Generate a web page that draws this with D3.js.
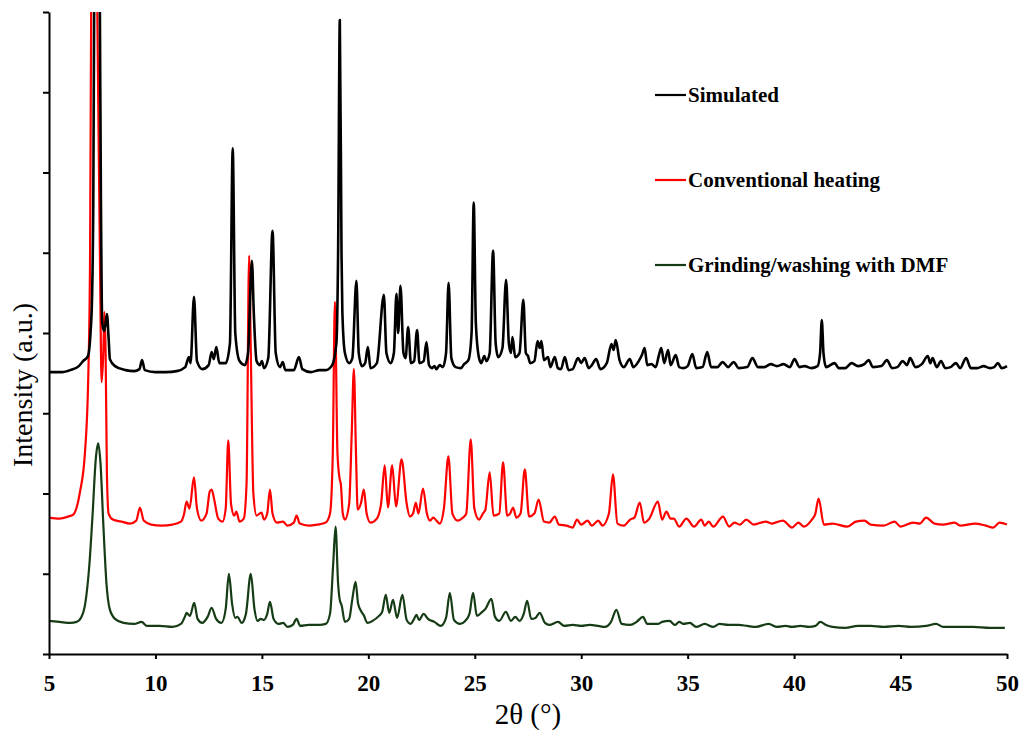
<!DOCTYPE html>
<html>
<head>
<meta charset="utf-8">
<script src="https://cdn.jsdelivr.net/npm/d3@7"></script>
<style>
  body { margin: 0; background: #fff; }
  svg { display: block; }
  text { font-family: "Liberation Serif", "Times New Roman", serif; }
</style>
</head>
<body>
<script>
// 2theta (deg), intensity (a.u., offset traces)
let simulated = [
  [5.0,281],[5.6,281],[6.0,283],[6.4,287],[6.6,292],[6.83,297],[6.95,320],[7.02,354],[7.08,450],[7.12,640],[7.26,1000],[7.39,640],[7.44,450],[7.5,330],[7.6,322],[7.72,339],[7.8,315],[7.86,294],[8.1,287],[8.6,283],[9.0,282],[9.25,284],[9.37,293],[9.5,283],[10.0,281],[10.5,281],[11.0,282],[11.4,286],[11.57,296],[11.65,290],[11.81,356],[11.95,292],[12.2,284],[12.5,288],[12.64,301],[12.74,294],[12.86,306],[13.0,290],[13.3,290],[13.5,310],[13.63,504],[13.75,320],[13.95,292],[14.2,288],[14.35,300],[14.53,392],[14.62,340],[14.75,292],[14.9,288],[15.0,292],[15.1,285],[15.3,295],[15.5,422],[15.65,300],[15.85,286],[15.98,291],[16.1,283],[16.5,283],[16.74,296],[16.9,284],[17.3,281],[17.7,283],[18.0,283],[18.3,288],[18.5,310],[18.58,400],[18.66,632],[18.74,400],[18.78,341],[18.9,300],[19.1,290],[19.25,295],[19.44,372],[19.55,300],[19.7,287],[19.85,290],[19.98,306],[20.1,285],[20.4,290],[20.73,358],[20.85,300],[21.05,290],[21.2,300],[21.32,359],[21.4,320],[21.51,367],[21.65,300],[21.75,295],[21.87,326],[22.0,290],[22.15,292],[22.29,323],[22.4,290],[22.6,292],[22.73,311],[22.85,288],[23.0,285],[23.1,287],[23.2,284],[23.35,288],[23.5,286],[23.65,300],[23.77,370],[23.9,295],[24.1,286],[24.35,285],[24.5,289],[24.7,293],[24.85,320],[24.95,450],[25.05,330],[25.2,295],[25.3,290],[25.45,297],[25.55,292],[25.7,300],[25.86,402],[25.98,310],[26.1,296],[26.3,305],[26.47,373],[26.6,310],[26.7,300],[26.77,316],[26.9,296],[27.1,300],[27.28,353],[27.4,300],[27.5,297],[27.6,290],[27.8,292],[27.95,312],[28.05,305],[28.13,312],[28.25,293],[28.44,296],[28.55,286],[28.76,296],[28.9,285],[29.05,284],[29.23,296],[29.4,283],[29.6,284],[29.85,295],[30.0,290],[30.16,295],[30.35,285],[30.5,288],[30.7,294],[30.9,284],[31.2,290],[31.42,309],[31.52,303],[31.62,313],[31.8,293],[32.0,286],[32.28,294],[32.45,286],[32.7,292],[32.85,298],[32.98,305],[33.1,288],[33.3,289],[33.5,286],[33.65,298],[33.76,305],[33.9,290],[34.08,303],[34.2,288],[34.44,298],[34.6,286],[34.8,285],[35.0,287],[35.22,299],[35.4,285],[35.7,286],[35.92,301],[36.1,286],[36.4,286],[36.64,291],[36.9,286],[37.16,291],[37.4,285],[37.8,286],[38.04,295],[38.3,286],[38.6,286],[38.9,289],[39.2,287],[39.5,289],[39.8,286],[40.02,294],[40.25,286],[40.5,287],[40.8,285],[41.1,287],[41.22,300],[41.3,333],[41.38,300],[41.5,286],[41.9,290],[42.1,285],[42.4,285],[42.7,290],[43.0,287],[43.3,289],[43.5,293],[43.7,286],[44.1,287],[44.36,293],[44.6,285],[44.85,286],[45.1,292],[45.3,288],[45.45,295],[45.7,286],[46.0,289],[46.28,297],[46.4,290],[46.5,295],[46.7,286],[46.9,292],[47.1,285],[47.35,286],[47.6,290],[47.8,285],[48.08,295],[48.3,285],[48.6,285],[48.9,287],[49.2,285],[49.4,286],[49.57,290],[49.75,285],[50.0,287]
]

let conventional = [
  [5.0,136],[5.5,135],[5.9,137],[6.14,139],[6.45,161],[6.69,201],[6.85,281],[6.93,400],[6.98,640],[7.12,900],[7.27,640],[7.4,380],[7.47,271],[7.55,300],[7.6,341],[7.66,300],[7.72,180],[7.8,140],[8.0,134],[8.4,132],[8.8,130],[9.1,133],[9.27,146],[9.45,133],[9.8,129],[10.3,128],[10.8,129],[11.2,132],[11.35,140],[11.46,152],[11.6,145],[11.81,176],[11.95,145],[12.15,133],[12.4,140],[12.55,162],[12.64,164],[12.75,155],[12.95,135],[13.15,132],[13.3,145],[13.42,213],[13.55,150],[13.7,138],[13.8,142],[13.95,132],[14.15,135],[14.28,170],[14.4,397],[14.48,300],[14.6,160],[14.75,138],[14.98,141],[15.1,134],[15.25,140],[15.38,164],[15.5,140],[15.7,131],[15.99,132],[16.2,128],[16.5,131],[16.63,138],[16.78,130],[17.2,128],[17.6,129],[18.0,131],[18.2,140],[18.33,200],[18.43,351],[18.55,200],[18.65,175],[18.71,169],[18.8,140],[18.9,134],[19.1,150],[19.22,220],[19.32,284],[19.42,200],[19.5,144],[19.65,150],[19.79,164],[19.92,140],[20.1,131],[20.4,135],[20.6,150],[20.77,188],[20.92,146],[21.12,188],[21.3,147],[21.56,194],[21.8,150],[21.95,137],[22.1,140],[22.23,151],[22.35,140],[22.57,165],[22.75,140],[22.9,133],[23.05,136],[23.2,133],[23.35,130],[23.55,145],[23.76,197],[23.95,140],[24.2,133],[24.45,136],[24.6,140],[24.81,214],[24.98,145],[25.2,134],[25.38,140],[25.5,144],[25.7,181],[25.88,138],[26.15,140],[26.33,191],[26.52,138],[26.66,140],[26.8,146],[26.95,136],[27.15,140],[27.35,184],[27.55,137],[27.8,140],[28.0,154],[28.25,132],[28.5,131],[28.76,137],[28.95,129],[29.3,128],[29.6,126],[29.8,134],[30.0,129],[30.3,133],[30.5,128],[30.8,133],[31.0,128],[31.3,140],[31.49,179],[31.7,130],[32.0,128],[32.3,134],[32.5,136],[32.75,151],[32.95,131],[33.2,135],[33.6,152],[33.8,134],[34.0,142],[34.2,135],[34.35,135],[34.6,127],[34.94,135],[35.3,127],[35.64,134],[35.8,128],[35.99,132],[36.2,127],[36.66,137],[36.95,127],[37.2,131],[37.45,129],[37.75,134],[38.1,129],[38.66,132],[38.95,130],[39.47,133],[39.9,126],[40.2,131],[40.45,127],[40.8,133],[41.0,140],[41.15,155],[41.4,129],[41.8,130],[42.5,127],[42.9,132],[43.3,133],[43.6,129],[44.2,128],[44.72,132],[45.0,127],[45.6,131],[45.9,130],[46.2,136],[46.6,130],[47.0,129],[47.54,131],[47.8,128],[48.5,130],[49.0,128],[49.35,126],[49.65,131],[50.0,129]
]

let grinding = [
  [5.0,33],[5.5,32],[6.0,31],[6.3,32],[6.5,36],[6.7,50],[6.9,90],[7.05,140],[7.2,195],[7.31,210],[7.42,190],[7.55,130],[7.7,70],[7.85,45],[8.1,35],[8.5,31],[9.0,30],[9.35,32],[9.6,28],[10.2,28],[10.8,27],[11.2,30],[11.4,38],[11.46,41],[11.62,38],[11.82,51],[11.98,35],[12.2,31],[12.45,37],[12.64,46],[12.85,35],[13.1,31],[13.3,45],[13.45,80],[13.6,50],[13.75,36],[13.85,37],[14.05,31],[14.25,40],[14.48,80],[14.65,45],[14.8,33],[14.95,35],[15.1,34],[15.25,40],[15.38,52],[15.55,35],[15.8,30],[16.0,31],[16.2,27],[16.45,29],[16.63,35],[16.8,28],[17.2,29],[17.7,29],[18.0,30],[18.2,40],[18.35,90],[18.46,127],[18.58,70],[18.65,55],[18.75,48],[18.9,32],[19.1,35],[19.25,55],[19.4,72],[19.52,50],[19.68,42],[19.8,38],[19.95,31],[20.2,33],[20.5,38],[20.65,42],[20.82,59],[20.98,41],[21.16,54],[21.35,36],[21.6,59],[21.8,34],[21.98,30],[22.15,35],[22.26,39],[22.38,34],[22.6,40],[22.8,35],[23.1,32],[23.4,28],[23.65,36],[23.83,61],[24.02,34],[24.3,30],[24.55,33],[24.75,40],[24.92,61],[25.1,38],[25.35,42],[25.5,45],[25.78,55],[25.95,37],[26.15,33],[26.46,42],[26.7,33],[26.9,37],[27.1,33],[27.3,40],[27.46,53],[27.65,35],[27.85,36],[28.05,41],[28.3,31],[28.5,29],[28.91,32],[29.2,28],[29.6,29],[30.0,28],[30.4,29],[30.8,28],[31.1,27],[31.4,32],[31.65,44],[31.9,30],[32.3,29],[32.6,32],[32.9,37],[33.1,30],[33.6,30],[33.8,32],[34.15,33],[34.4,29],[34.6,32],[34.8,30],[35.1,31],[35.4,27],[35.8,30],[36.2,27],[36.5,30],[36.9,29],[37.4,29],[37.8,28],[38.2,27],[38.8,30],[39.2,27],[39.6,28],[39.9,27],[40.3,28],[40.7,27],[41.0,28],[41.23,32],[41.5,29],[41.8,27],[42.4,26],[43.0,28],[43.6,28],[44.2,27],[44.9,28],[45.5,27],[46.2,28],[46.67,30],[47.0,27],[47.6,27],[48.4,27],[49.2,26],[49.9,26]
]

let seriesNames = ["Simulated", "Conventional heating", "Grinding/washing with DMF"]
let seriesColors = ["#000000", "#ff0000", "#163c16"]
let xTicks = [5, 10, 15, 20, 25, 30, 35, 40, 45, 50]
let yTicks = [0, 80, 160, 240, 320, 400, 480, 560, 640]

let w = 1023
let h = 734
let mLeft = 49, mRight = 1007, mTop = 12, mBottom = 654

let svg = d3.select("body").append("svg")
  .attr("width", w)
  .attr("height", h)

let xScale = d3.scaleLinear().domain([5, 50]).range([mLeft, mRight])
let yScale = d3.scaleLinear().domain([0, 640]).range([mBottom, mTop])

svg.append("clipPath")
  .attr("id", "plot-clip")
  .append("rect")
  .attr("x", mLeft)
  .attr("y", mTop)
  .attr("width", mRight - mLeft + 10)
  .attr("height", mBottom - mTop)

let line = d3.line()
  .x(d => xScale(d[0]))
  .y(d => yScale(d[1]))
  .curve(d3.curveMonotoneX)

let allSeries = [simulated, conventional, grinding]
let widths = [2.6, 2.2, 2.2]

let plot = svg.append("g").attr("clip-path", "url(#plot-clip)")
// draw bottom trace first so the simulated one sits on top
for (let i = allSeries.length - 1; i >= 0; i--) {
  plot.append("path")
    .datum(allSeries[i])
    .attr("fill", "none")
    .attr("stroke", seriesColors[i])
    .attr("stroke-width", widths[i])
    .attr("stroke-linejoin", "round")
    .attr("d", line)
}

// axes
let xAxis = d3.axisBottom(xScale)
  .tickValues(xTicks)
  .tickSize(5)
  .tickSizeOuter(0)
  .tickPadding(16)
  .tickFormat(d3.format("d"))

let gx = svg.append("g")
  .attr("transform", "translate(0," + mBottom + ")")
  .call(xAxis)
gx.selectAll("text")
  .attr("font-family", "'Liberation Serif', serif")
  .attr("font-size", 23)
  .attr("font-weight", "bold")
  .attr("fill", "#000")

let yAxis = d3.axisLeft(yScale)
  .tickValues(yTicks)
  .tickSize(6)
  .tickSizeOuter(0)
  .tickFormat("")

let gy = svg.append("g")
  .attr("transform", "translate(" + mLeft + ",0)")
  .call(yAxis)

svg.selectAll(".domain, .tick line")
  .attr("stroke", "#000")
  .attr("stroke-width", 2)

// axis titles
svg.append("text")
  .attr("x", (mLeft + mRight) / 2)
  .attr("y", 724)
  .attr("text-anchor", "middle")
  .attr("font-size", 29)
  .text("2θ (°)")

svg.append("text")
  .attr("transform", "translate(32,385) rotate(-90)")
  .attr("text-anchor", "middle")
  .attr("font-size", 28)
  .text("Intensity (a.u.)")

// legend
let legendY = [95, 180, 265]
let legend = svg.append("g")
seriesNames.forEach((name, i) => {
  legend.append("line")
    .attr("x1", 655)
    .attr("x2", 686)
    .attr("y1", legendY[i])
    .attr("y2", legendY[i])
    .attr("stroke", seriesColors[i])
    .attr("stroke-width", 2.2)
  legend.append("text")
    .attr("x", 688)
    .attr("y", legendY[i] + 7)
    .attr("font-size", 21)
    .attr("font-weight", "bold")
    .text(name)
})
</script>
</body>
</html>
